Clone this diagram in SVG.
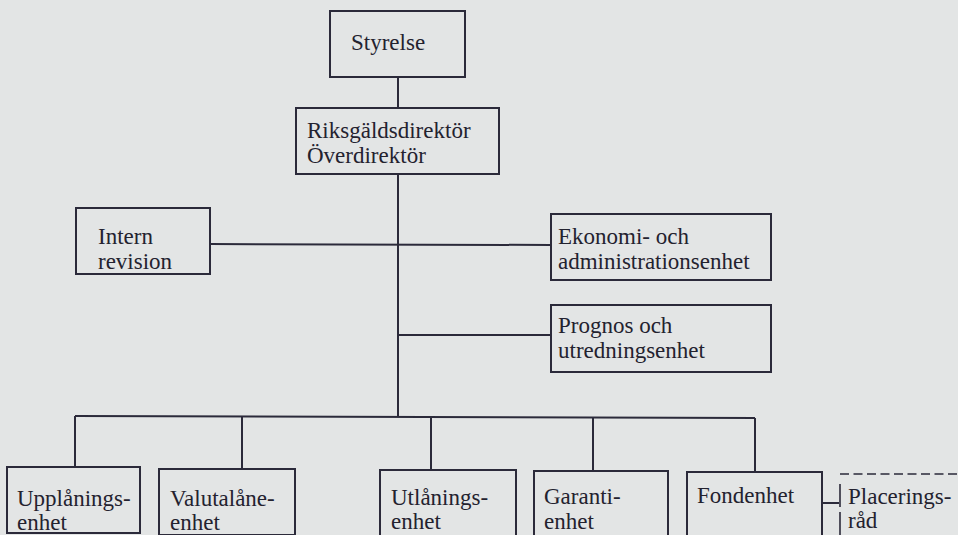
<svg xmlns="http://www.w3.org/2000/svg" width="958" height="535" viewBox="0 0 958 535">
<style>
.box{fill:none;stroke:#2b2a3a;stroke-width:2}
.ln{fill:none;stroke:#2b2a3a;stroke-width:2}
.dash{fill:none;stroke:#2b2a3a;stroke-width:1.6}
.t{font-family:'Liberation Serif','Times New Roman','DejaVu Serif',serif;font-size:23px;fill:#23222f}
</style>
<rect x="0" y="0" width="958" height="535" fill="#e3e5e5"/>
<g id="connectors">
<line class="ln" x1="398" y1="77" x2="398" y2="108"/>
<line class="ln" x1="398" y1="174" x2="398" y2="416"/>
<line class="ln" x1="210" y1="244" x2="551" y2="245"/>
<line class="ln" x1="398" y1="335" x2="551" y2="335"/>
<line class="ln" x1="75" y1="416" x2="755" y2="418"/>
<line class="ln" x1="75" y1="416" x2="75" y2="467"/>
<line class="ln" x1="242" y1="416" x2="242" y2="469"/>
<line class="ln" x1="431" y1="417" x2="431" y2="470"/>
<line class="ln" x1="593" y1="418" x2="593" y2="471"/>
<line class="ln" x1="755" y1="418" x2="755" y2="472"/>
<line class="ln" x1="822" y1="503" x2="839" y2="503"/>
</g>
<g class="t">
<g id="styrelse">
<rect class="box" x="330" y="11" width="135" height="66"/>
<text class="t" x="351" y="50">Styrelse</text>
</g>
<g id="riksgaldsdirektor">
<rect class="box" x="296" y="108" width="203" height="66"/>
<text class="t" x="307" y="138">Riksgäldsdirektör</text>
<text class="t" x="307" y="163">Överdirektör</text>
</g>
<g id="intern-revision">
<rect class="box" x="76" y="208" width="134" height="66"/>
<text class="t" x="98" y="244">Intern</text>
<text class="t" x="98" y="269">revision</text>
</g>
<g id="ekonomi">
<rect class="box" x="551" y="214" width="220" height="66"/>
<text class="t" x="558" y="244">Ekonomi- och</text>
<text class="t" x="558" y="269">administrationsenhet</text>
</g>
<g id="prognos">
<rect class="box" x="551" y="305" width="220" height="67"/>
<text class="t" x="558" y="333">Prognos och</text>
<text class="t" x="558" y="358">utredningsenhet</text>
</g>
<g id="upplaning">
<rect class="box" x="7" y="467" width="133" height="66"/>
<text class="t" x="17" y="506">Upplånings-</text>
<text class="t" x="17" y="530">enhet</text>
</g>
<g id="valutalane">
<rect class="box" x="159" y="469" width="136" height="66"/>
<text class="t" x="170" y="506">Valutalåne-</text>
<text class="t" x="170" y="530">enhet</text>
</g>
<g id="utlaning">
<rect class="box" x="380" y="470" width="136" height="66"/>
<text class="t" x="391" y="505">Utlånings-</text>
<text class="t" x="391" y="529">enhet</text>
</g>
<g id="garanti">
<rect class="box" x="534" y="471" width="134" height="66"/>
<text class="t" x="544" y="504">Garanti-</text>
<text class="t" x="544" y="529">enhet</text>
</g>
<g id="fondenhet">
<rect class="box" x="687" y="472" width="135" height="66"/>
<text class="t" x="697" y="503">Fondenhet</text>
</g>
<g id="placeringsrad">
<line class="dash" x1="840" y1="474" x2="958" y2="474" stroke-dasharray="9 4.5"/>
<line class="dash" x1="840" y1="484" x2="840" y2="535" stroke-dasharray="23 5"/>
<text class="t" x="848" y="504">Placerings-</text>
<text class="t" x="848" y="528">råd</text>
</g>
</g>
</svg>
